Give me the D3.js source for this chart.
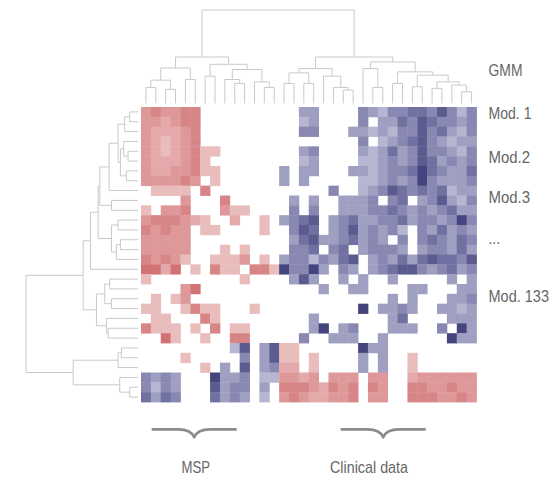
<!DOCTYPE html>
<html>
<head>
<meta charset="utf-8">
<script src="https://cdn.jsdelivr.net/npm/d3@7"></script>
<style>
  html, body { margin: 0; padding: 0; background: #fff; }
  svg { display: block; }
  text { font-family: "Liberation Sans", Arial, sans-serif; fill: #666; }
</style>
</head>
<body>
<svg id="chart" width="557" height="477"></svg>
<script>
// Module x variable correlation scores, stored x10 (positive = red, negative = blue, 0 = blank)
const scores = [
  [5,6,5,5,6,6, 0,0,0,0,0,0,0,0,0,0, -4,-4, 0,0,0,0, -5,-4,-3,-5,-5,-6,-6,-5,-7,-5,-3,-5],
  [5,5,4,5,6,6, 0,0,0,0,0,0,0,0,0,0, -3,-4, 0,0,0,0, -5,0,-4,-4,-6,-5,-7,-6,-5,-5,-4,-5],
  [5,4,4,4,5,6, 0,0,0,0,0,0,0,0,0,0, -5,-5, 0,0,0,-4, -4,-3,-4,-3,-5,-5,-7,-5,-6,-4,-3,-5],
  [5,4,3,4,5,6, 0,0,0,0,0,0,0,0,0,0, 0,0, 0,0,0,0, -5,0,-3,-4,-5,-6,-7,-5,-4,-3,-4,-4],
  [5,4,3,4,5,6, 3,3,0,0,0,0,0,0,0,0, -4,-5, 0,0,0,0, -4,-3,-4,-6,-4,-5,-7,-5,-5,-4,-3,-5],
  [5,4,4,4,5,6, 3,0,0,0,0,0,0,0,0,0, -3,-4, 0,0,0,0, -3,-3,-4,-5,-4,-5,-7,-6,-4,-5,-4,-5],
  [5,4,4,5,5,6, 3,3,0,0,0,0,0,0,-4,0, -4,-4, 0,0,0,-4, -4,-3,-4,-5,-5,-6,-8,-6,-5,-4,-4,-6],
  [5,5,5,5,6,5, 0,3,0,0,0,0,0,0,-4,0, -4,0, 0,0,0,0, -3,-3,-4,-5,-4,-5,-8,-5,-4,-4,-4,-5],
  [0,3,3,3,3,0, 6,0,0,0,0,0,0,0,0,0, 0,0, 0,-5,0,0, -3,-4,-5,-7,-6,-5,-6,-5,-6,-3,-4,-4],
  [0,0,0,0,5,0, 0,0,6,0,0,0,0,0,0,-4, 0,-4, 0,0,-4,-4, -4,-5,0,-5,-6,0,-4,-5,-7,-4,-3,-5],
  [3,0,5,5,6,0, 0,0,5,3,3,0,0,0,0,-5, 0,-5, 0,0,-4,-4, -4,-5,-5,-6,-5,-4,-5,-4,-5,-6,-4,-4],
  [5,6,6,6,5,4, 3,0,0,4,0,0,3,0,-4,-5, -6,-7, 0,-4,-5,-6, -4,-4,-5,-5,-6,-4,-5,-5,-4,-5,-8,-5],
  [6,5,6,5,5,0, 3,3,0,0,0,0,3,0,0,-5, -7,-6, 0,-4,-5,-7, -4,-5,-4,-5,-3,0,-5,-4,-6,-4,-5,-4],
  [5,5,5,5,5,0, 0,0,0,0,0,0,0,0,0,-4, -6,-7, -4,-4,-5,-6, -4,-5,-4,0,-5,0,-5,-6,-5,-4,-6,-5],
  [5,5,5,5,5,0, 0,0,3,0,3,0,0,0,0,-5, -5,-6, 0,-5,-6,0, -4,-5,-5,-5,-4,0,-4,-5,-5,-4,-6,-4],
  [6,5,6,5,3,0, 0,3,3,3,5,0,3,0,-4,-5, -5,-3, -5,-4,-6,-7, 0,-4,-5,-4,-6,-4,-6,-7,-6,-6,-5,-7],
  [7,7,4,7,0,3, 0,6,3,3,0,6,6,3,-8,-5, -5,-8, -4,0,-5,-4, 0,-4,-5,-6,-7,-7,-5,-4,-5,-6,-4,-5],
  [3,0,0,0,0,0, 0,0,0,0,3,0,0,0,0,-4, -7,-4, 0,0,-4,0, -4,0,0,-4,0,0,0,0,0,-4,0,-4],
  [0,0,0,0,5,7, 0,0,0,0,0,0,0,0,0,0, 0,0, -4,0,0,-4, -4,0,0,0,0,-4,-4,0,0,0,-4,-4],
  [0,3,0,3,5,0, 0,0,0,0,0,0,0,0,0,0, 0,0, 0,0,0,0, 0,0,0,-4,0,-4,0,0,0,-4,-4,-5],
  [3,3,0,0,3,6, 3,3,0,0,0,3,0,0,0,0, 0,0, 0,0,0,0, -8,0,-4,-4,-5,-4,0,0,-4,-4,-3,-4],
  [0,3,3,0,0,0, 6,3,0,0,0,0,0,0,0,0, 0,-4, 0,0,0,0, 0,0,0,-4,-6,0,0,0,0,-4,-4,-4],
  [6,3,3,3,0,3, 0,6,0,3,3,0,0,0,0,0, 0,-4, -8,0,-4,-5, 0,0,0,-4,-4,-4,0,0,-5,0,-8,-4],
  [0,0,7,3,0,0, 3,0,0,6,6,0,0,0,0,0, -5,0, 0,-4,-4,-4, 0,0,-4,0,0,0,0,0,0,-8,-4,-4],
  [0,0,0,0,0,0, 0,0,0,-3,-7,0,-4,-7,3,3, 0,0, 0,0,0,0, -8,-4,-4,0,0,0,0,0,0,0,0,0],
  [0,0,0,0,3,0, 0,0,0,0,-5,0,-4,-7,3,3, 0,3, 0,0,0,0, -4,0,-4,0,0,3,0,0,0,0,0,0],
  [0,0,0,0,0,0, 3,0,-4,0,-7,0,-4,-5,4,4, 0,3, 0,0,0,0, -4,0,-4,0,0,3,0,0,0,0,0,0],
  [-5,-4,-5,-4,0,0, 0,-8,-4,-4,-5,0,-3,-3,5,5, 4,5, 0,5,5,5, 0,5,5,0,0,4,5,5,5,5,5,5],
  [-5,-3,-5,-4,0,0, 0,-7,-4,-5,-5,0,-4,0,6,6, 6,5, 4,6,5,6, 0,6,5,0,0,6,6,5,5,6,5,5],
  [-6,-4,-6,-5,0,0, 0,-6,-4,-5,-4,0,-3,0,5,6, 5,4, 4,5,5,6, 0,5,5,0,0,6,6,6,5,5,6,5]
];

// Column clustering (variables): [mergeHeight, left, right]; leaves are column indices
const colTree =
  [1.0,
    [0.496,
      [0.379, [0.248, [0.170, 0, 1], [0.149, 2, 3]], [0.255, 4, 5]],
      [0.418, [0.291, 6, 7],
        [0.362, [0.255, 8, [0.213, 9, 10]], [0.230, 11, [0.170, 12, 13]]]]],
    [0.496,
      [0.372, [0.326, [0.213, 14, 15], [0.213, 16, 17]], [0.291, 18, [0.170, 19, [0.142, 20, 21]]]],
      [0.443, [0.372, 22, [0.170, 23, 24]],
        [0.337, [0.213, 25, 26],
          [0.301, [0.177, 27, 28], [0.230, [0.160, 29, 30], [0.195, 31, [0.124, 32, 33]]]]]]]];

// Row clustering (modules)
const rowTree =
  [1.0,
    [0.490,
      [0.424,
        [0.356,
          [0.341,
            [0.258,
              [0.178, [0.119, [0.074, 0, 1], 2], [0.157, [0.128, 3, [0.089, 4, 5]], [0.104, 6, 7]]],
              8],
            [0.237, 9, 10]],
          [0.237, [0.178, 11, 12], [0.193, [0.157, 13, 14], 15]]],
        16],
      [0.371,
        [0.297, [0.252, 17, 18], [0.237, 19, 20]],
        [0.282, 21, [0.267, 22, 23]]]],
    [0.579,
      [0.178, [0.148, 24, 25], 26],
      [0.163, 27, [0.074, 28, 29]]]];

const rowLabels = ["GMM", "Mod. 1", "Mod.2", "Mod.3", "...", "Mod. 133"];
const groupLabels = ["MSP", "Clinical data"];

// ---- layout ----
const nRows = scores.length, nCols = scores[0].length;
const svg = d3.select("#chart");

const x = d3.scaleBand().domain(d3.range(nCols)).range([141, 476.5]);
const y = d3.scaleBand().domain(d3.range(nRows)).range([107, 402]);
const color = d3.scaleLinear()
  .domain([-1, -0.3, 0, 0.3, 1])
  .range(["#16165e", "#b6b6d3", "#ffffff", "#eabdbd", "#c03a3e"])
  .clamp(true);

// heatmap cells
const cells = [];
scores.forEach((row, r) => row.forEach((v, c) => { if (v !== 0) cells.push({ r, c, v: v / 10 }); }));
svg.append("g")
  .selectAll("rect")
  .data(cells)
  .join("rect")
  .attr("x", d => x(d.c))
  .attr("y", d => y(d.r))
  .attr("width", x.bandwidth() + 0.4)
  .attr("height", y.bandwidth() + 0.4)
  .attr("fill", d => color(d.v));

// dendrograms
function buildTree(spec, leafPos) {
  const root = d3.hierarchy(spec, d => Array.isArray(d) ? d.slice(1) : null);
  root.eachAfter(n => {
    if (n.children) {
      n.h = n.data[0];
      n.pos = (n.children[0].pos + n.children[1].pos) / 2;
    } else {
      n.h = 0;
      n.pos = leafPos(n.data);
    }
  });
  return root;
}

const dendroStroke = "#c9c9c9";

// top dendrogram over columns
const hTop = d3.scaleLinear().domain([0, 1]).range([103.3, 10]);
const topRoot = buildTree(colTree, c => x(c) + x.bandwidth() / 2);
svg.append("g")
  .attr("fill", "none").attr("stroke", dendroStroke).attr("stroke-width", 1)
  .selectAll("path")
  .data(topRoot.links())
  .join("path")
  .attr("d", l => `M${l.target.pos},${hTop(l.target.h)}V${hTop(l.source.h)}H${l.source.pos}`);

// left dendrogram over rows
const hLeft = d3.scaleLinear().domain([0, 1]).range([138, 26]);
const leftRoot = buildTree(rowTree, r => y(r) + y.bandwidth() / 2);
svg.append("g")
  .attr("fill", "none").attr("stroke", dendroStroke).attr("stroke-width", 1)
  .selectAll("path")
  .data(leftRoot.links())
  .join("path")
  .attr("d", l => `M${hLeft(l.target.h)},${l.target.pos}H${hLeft(l.source.h)}V${l.source.pos}`);

// row annotations on the right (condensed by fitting each text to its width)
const labelBaselines = [76, 119, 163, 203, 244, 302];
const labelWidths = [34, 43, 41.5, 41.5, 11.5, 60.5];
svg.append("g")
  .selectAll("text")
  .data(rowLabels)
  .join("text")
  .attr("x", 488.5)
  .attr("y", (d, i) => labelBaselines[i])
  .attr("font-size", 17)
  .attr("textLength", (d, i) => labelWidths[i])
  .attr("lengthAdjust", "spacingAndGlyphs")
  .text(d => d);

// column group braces and labels
const braceCenters = [194.2, 383.2];
const braceHalf = 42.5, braceY = 429.3;
const groupTextX = [195.7, 369];
const groupTextW = [28.5, 78];
const braces = svg.append("g");
braces.selectAll("path")
  .data(groupLabels)
  .join("path")
  .attr("fill", "none")
  .attr("stroke", "#8c8c8c")
  .attr("stroke-width", 2.8)
  .attr("stroke-linejoin", "round")
  .attr("d", (d, i) => {
    const c = braceCenters[i];
    return `M${c - braceHalf},${braceY}H${c - 16}Q${c - 3},${braceY} ${c},${braceY + 8}Q${c + 3},${braceY} ${c + 16},${braceY}H${c + braceHalf}`;
  });
braces.selectAll("text")
  .data(groupLabels)
  .join("text")
  .attr("x", (d, i) => groupTextX[i] - groupTextW[i] / 2)
  .attr("y", 472.5)
  .attr("font-size", 17)
  .attr("textLength", (d, i) => groupTextW[i])
  .attr("lengthAdjust", "spacingAndGlyphs")
  .text(d => d);
</script>
</body>
</html>
